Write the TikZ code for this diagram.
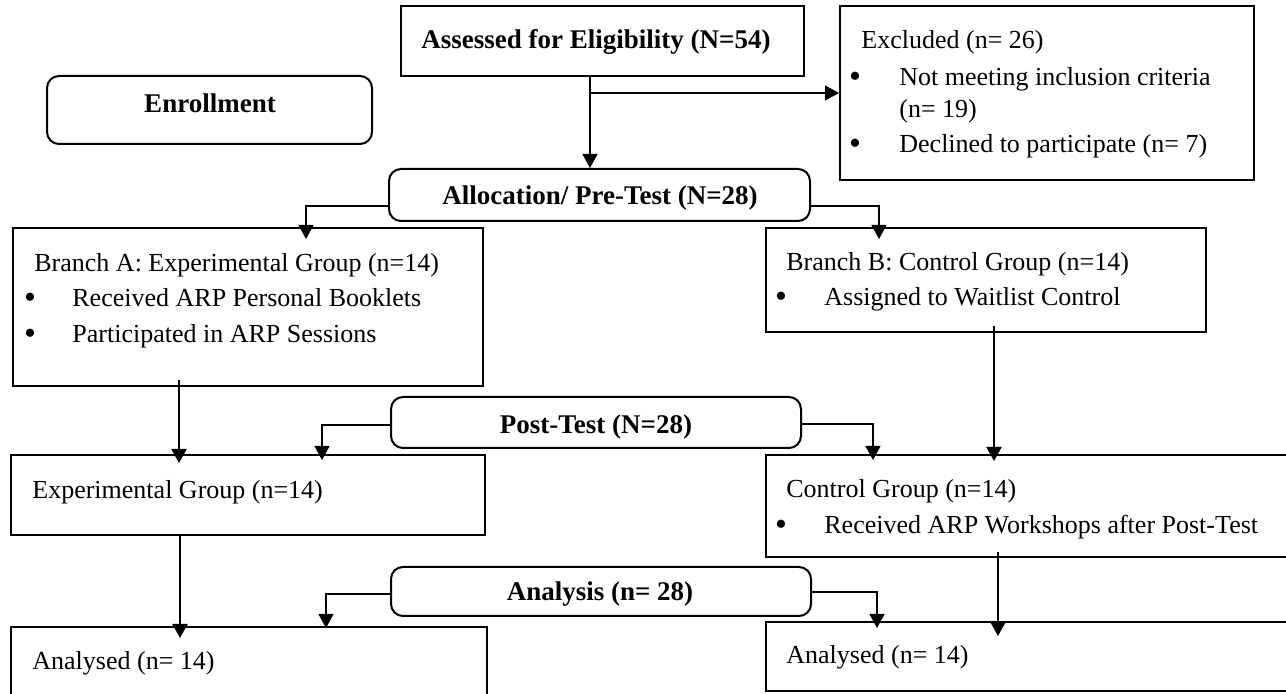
\documentclass[tikz,border=0pt]{standalone}
\usepackage{fontspec}
\setmainfont{Liberation Serif}
\usetikzlibrary{arrows.meta,fit}
\begin{document}
\begin{tikzpicture}[x=0.5pt,y=-0.5pt,
  box/.style={draw, line width=1pt, inner sep=0pt},
  rbox/.style={box, rounded corners=6pt},
  txt/.style={anchor=base west, inner sep=0pt, font=\fontsize{13}{15}\selectfont},
  btxt/.style={anchor=base, inner sep=0pt, font=\fontsize{13.5}{16}\selectfont\bfseries},
  bul/.style={anchor=base, inner sep=0pt, font=\fontsize{17}{17}\selectfont},
  thinarr/.style={line width=0.6pt, -{Triangle[length=7pt,width=7.5pt]}},
  thickarr/.style={line width=1pt, -{Triangle[length=7pt,width=7.5pt]}}]
\useasboundingbox (0,0) rectangle (1286,694);
\clip (0,0) rectangle (1286,694);

% boxes
\node[box, fit={(401,6)(804,76)}] (assess) {};
\node[rbox, fit={(47,76)(372,144)}] (enroll) {};
\node[box, fit={(840,6)(1254,180)}] (excl) {};
\node[rbox, fit={(389,169)(810,221)}] (alloc) {};
\node[box, fit={(13,228)(483,386)}] (brA) {};
\node[box, fit={(766,228)(1206,332)}] (brB) {};
\node[rbox, fit={(391,397)(801,448)}] (post) {};
\node[box, fit={(11,455)(485,535)}] (exp) {};
\node[box, fit={(766,455)(1300,557)}] (ctl) {};
\node[rbox, fit={(391,567)(811,616)}] (ana) {};
\node[box, fit={(11,627)(487,710)}] (anL) {};
\node[box, fit={(766,622)(1300,691)}] (anR) {};

% texts
\node[btxt] (tAssess) at (596,49) {Assessed for Eligibility (N=54)};
\node[btxt] (tEnroll) at (210,113) {Enrollment};
\node[btxt] (tAlloc) at (600,205) {Allocation/ Pre-Test (N=28)};
\node[btxt] (tPost) at (596,434) {Post-Test (N=28)};
\node[btxt] (tAna) at (600,601) {Analysis (n= 28)};

\node[txt] (tEx0) at (861,49) {Excluded (n= 26)};
\node[bul] (bEx1) at (855,88) {•};
\node[txt] (tEx1) at (899,86) {Not meeting inclusion criteria};
\node[txt] (tEx2) at (899,118) {(n= 19)};
\node[bul] (bEx3) at (855,155) {•};
\node[txt] (tEx3) at (899,153) {Declined to participate (n= 7)};

\node[txt] (tA0) at (34,272) {Branch A: Experimental Group (n=14)};
\node[bul] (bA1) at (30,309) {•};
\node[txt] (tA1) at (72,307) {Received ARP Personal Booklets};
\node[bul] (bA2) at (30,345) {•};
\node[txt] (tA2) at (72,343) {Participated in ARP Sessions};

\node[txt] (tB0) at (786,271) {Branch B: Control Group (n=14)};
\node[bul] (bB1) at (781,308) {•};
\node[txt] (tB1) at (824,306) {Assigned to Waitlist Control};

\node[txt] (tE0) at (32,499) {Experimental Group (n=14)};
\node[txt] (tC0) at (786,498) {Control Group (n=14)};
\node[bul] (bC1) at (781,536) {•};
\node[txt] (tC1) at (824,534) {Received ARP Workshops after Post-Test};

\node[txt] (tL0) at (32,670) {Analysed (n= 14)};
\node[txt] (tR0) at (786,664) {Analysed (n= 14)};

% connectors
\coordinate (j1) at (590,93);
\draw[line width=0.6pt] (assess.south -| j1) -- (j1);
\draw[thinarr] (j1) -- (alloc.north -| j1);
\draw[thinarr] (j1) -- (excl.west |- j1);

\coordinate (cA) at (306,206);
\coordinate (cB) at (879,206);
\draw[thinarr, shorten >=-6pt] (alloc.west |- cA) -| (brA.north -| cA);
\draw[thinarr, shorten >=-6pt] (alloc.east |- cB) -| (brB.north -| cB);

\coordinate (vA) at (179,0);
\coordinate (vB) at (994,0);
\draw[thickarr, shorten <=-3.5pt, shorten >=-4.5pt] (brA.south -| vA) -- (exp.north -| vA);
\draw[thickarr, shorten <=-3.5pt, shorten >=-3.5pt] (brB.south -| vB) -- (ctl.north -| vB);

\coordinate (pA) at (322,425);
\coordinate (pB) at (873,424);
\draw[thinarr, shorten >=-3pt] (post.west |- pA) -| (exp.north -| pA);
\draw[thinarr, shorten >=-3pt] (post.east |- pB) -| (ctl.north -| pB);

\coordinate (vA2) at (180,0);
\coordinate (vB2) at (998,0);
\draw[thickarr, shorten >=-6pt] (exp.south -| vA2) -- (anL.north -| vA2);
\draw[thickarr, shorten <=-3pt, shorten >=-7.5pt] (ctl.south -| vB2) -- (anR.north -| vB2);

\coordinate (aA) at (326,594);
\coordinate (aB) at (877,592);
\draw[thinarr, shorten >=-1pt] (ana.west |- aA) -| (anL.north -| aA);
\draw[thinarr, shorten >=-3.5pt] (ana.east |- aB) -| (anR.north -| aB);
\end{tikzpicture}
\end{document}
